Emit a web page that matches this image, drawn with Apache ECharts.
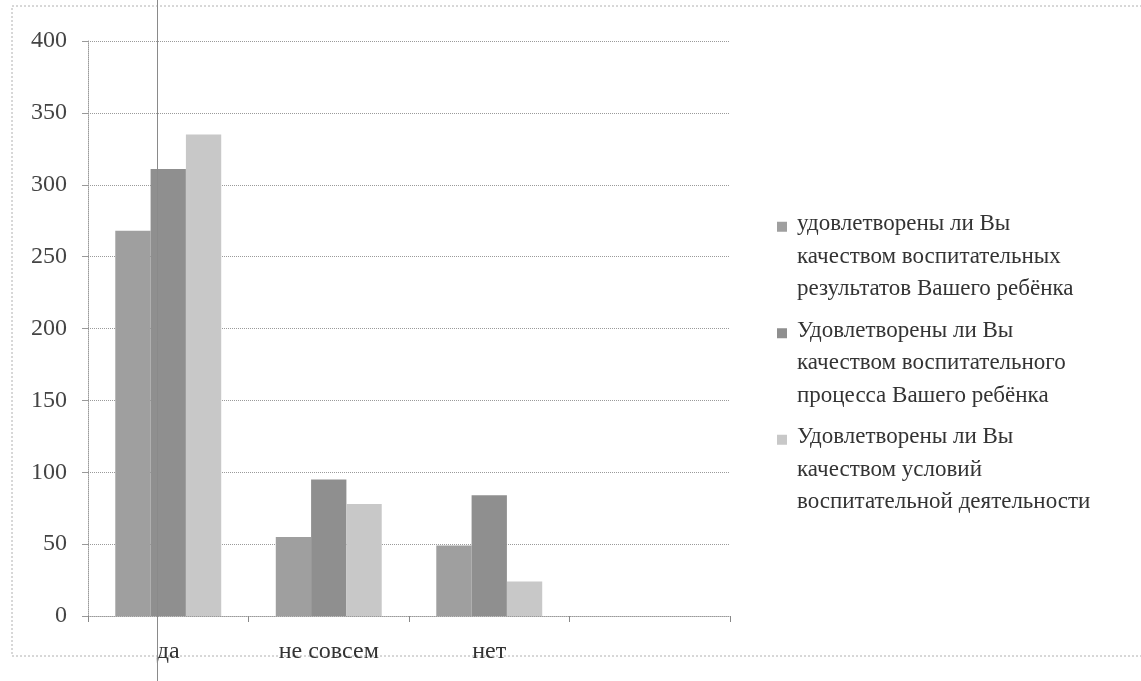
<!DOCTYPE html>
<html>
<head>
<meta charset="utf-8">
<script src="https://cdn.jsdelivr.net/npm/echarts@6/dist/echarts.min.js"></script>
<style>
  html, body { margin: 0; padding: 0; background: #fff; }
  #chart { width: 1141px; height: 681px; }
</style>
</head>
<body>
<div id="chart"></div>
<script>
// категории (четвёртая пустая, как в исходной диаграмме)
const categories = ['да', 'не совсем', 'нет', '']
const seriesNames = [
  'удовлетворены ли Вы\nкачеством воспитательных\nрезультатов Вашего ребёнка',
  'Удовлетворены ли Вы\nкачеством воспитательного\nпроцесса Вашего ребёнка',
  'Удовлетворены ли Вы\nкачеством условий\nвоспитательной деятельности'
]
const resultsValues = [268, 55, 49, null]
const processValues = [311, 95, 84, null]
const conditionsValues = [335, 78, 24, null]
const yTicks = [0, 400, 50] // min, max, interval

const colors = ['#9f9f9f', '#8f8f8f', '#c8c8c8']
const serif = '"Liberation Serif", "DejaVu Serif", serif'
// квадрат вверху высокой рамки — значок стоит у первой строки подписи
const legendIcon = 'path://M0,0L10,0L10,10L0,10Z M15,70L15.01,70'

const chart = echarts.init(document.getElementById('chart'))
chart.setOption({
  backgroundColor: '#ffffff',
  animation: false,
  grid: {
    left: 88,
    right: 411,
    top: 41,
    bottom: 65
  },
  legend: {
    orient: 'vertical',
    left: 772,
    top: 203,
    itemWidth: 15,
    itemHeight: 70,
    itemGap: 9,
    icon: legendIcon,
    textStyle: {
      fontFamily: serif,
      fontSize: 23,
      lineHeight: 32.5,
      color: '#333'
    },
    data: seriesNames
  },
  xAxis: {
    type: 'category',
    data: categories,
    axisLine: { lineStyle: { color: '#9a9a9a', type: 'dotted' } },
    axisTick: { show: true, length: 6, lineStyle: { color: '#888' } },
    axisLabel: {
      fontFamily: serif,
      fontSize: 24,
      color: '#333',
      margin: 24
    },
    splitLine: { show: false }
  },
  yAxis: {
    type: 'value',
    min: yTicks[0],
    max: yTicks[1],
    interval: yTicks[2],
    axisLine: { show: true, lineStyle: { color: '#9a9a9a', type: 'dotted' } },
    axisTick: { show: true, length: 6, lineStyle: { color: '#999' } },
    axisLabel: {
      fontFamily: serif,
      fontSize: 24,
      color: '#444',
      margin: 21
    },
    splitLine: { lineStyle: { color: '#9a9a9a', type: 'dotted' } }
  },
  series: [
    {
      name: seriesNames[0],
      type: 'bar',
      barGap: 0,
      barCategoryGap: '34%',
      itemStyle: { color: colors[0] },
      data: resultsValues
    },
    {
      name: seriesNames[1],
      type: 'bar',
      barGap: 0,
      barCategoryGap: '34%',
      itemStyle: { color: colors[1] },
      data: processValues
    },
    {
      name: seriesNames[2],
      type: 'bar',
      barGap: 0,
      barCategoryGap: '34%',
      itemStyle: { color: colors[2] },
      data: conditionsValues
    }
  ],
  graphic: [
    // рамка области диаграммы
    {
      type: 'rect',
      shape: { x: 12, y: 6, width: 1140, height: 650 },
      style: { fill: 'none', stroke: '#b0b0b0', lineWidth: 1, lineDash: [2, 2] },
      silent: true
    },
    // вертикальная линия сгиба на скане
    {
      type: 'line',
      shape: { x1: 157.5, y1: 0, x2: 157.5, y2: 681 },
      style: { stroke: '#8a8a8a', lineWidth: 1 },
      z: 10,
      silent: true
    }
  ]
})
</script>
</body>
</html>
